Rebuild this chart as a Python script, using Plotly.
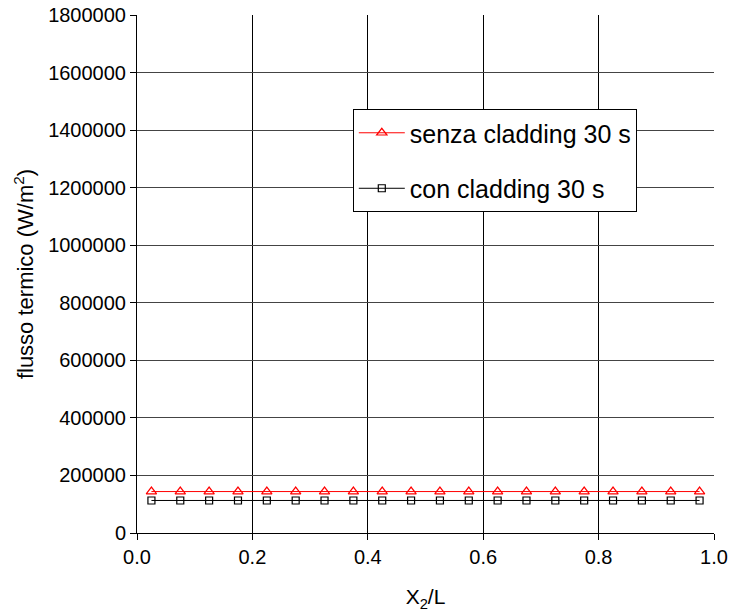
import plotly.graph_objects as go

x_pos = [0.025, 0.075, 0.125, 0.175, 0.225, 0.275, 0.325, 0.375, 0.425, 0.475,
         0.525, 0.575, 0.625, 0.675, 0.725, 0.775, 0.825, 0.875, 0.925, 0.975]
senza_cladding = [144000] * 20
con_cladding = [113000] * 20
x_ticks = [0.0, 0.2, 0.4, 0.6, 0.8, 1.0]
y_ticks = [0, 200000, 400000, 600000, 800000, 1000000, 1200000, 1400000, 1600000, 1800000]

FONT = "Liberation Sans, Arial, sans-serif"

fig = go.Figure()
fig.add_trace(go.Scatter(
    x=x_pos, y=senza_cladding, mode="lines+markers", name="senza cladding 30 s",
    line=dict(color="#ff0000", width=1),
    marker=dict(symbol="triangle-up-open", size=9, color="#ff0000", line=dict(width=1.2, color="#ff0000")),
    legendgroup="a",
))
fig.add_trace(go.Scatter(
    x=x_pos, y=con_cladding, mode="lines+markers", name="con cladding 30 s",
    line=dict(color="#000000", width=1),
    marker=dict(symbol="square-open", size=7, color="#000000", line=dict(width=1.2, color="#000000")),
    legendgroup="b",
))

fig.update_layout(
    width=729, height=612,
    margin=dict(l=137, r=15, t=15, b=79),
    paper_bgcolor="white", plot_bgcolor="white",
    font=dict(family=FONT, color="black", size=20),
    showlegend=True,
    legend=dict(
        x=0.374, y=0.8185, xanchor="left", yanchor="top",
        bgcolor="white", bordercolor="black", borderwidth=1,
        font=dict(family=FONT, size=25, color="black"),
        traceorder="grouped", tracegroupgap=20,
        itemwidth=46,
    ),
    xaxis=dict(
        range=[0, 1], tickvals=x_ticks, tickformat=".1f",
        showgrid=True, gridcolor="#000000", gridwidth=1,
        showline=True, linecolor="black", linewidth=1,
        ticks="outside", ticklen=6, tickcolor="black",
        tickfont=dict(size=20),
        zeroline=False, automargin=False,
        title=dict(text="X<sub>2</sub>/L", font=dict(size=21), standoff=22),
    ),
    yaxis=dict(
        range=[0, 1800000], tickvals=y_ticks, tickformat="d",
        showgrid=True, gridcolor="#444444", gridwidth=1,
        showline=True, linecolor="black", linewidth=1,
        ticks="outside", ticklen=6, tickcolor="black",
        tickfont=dict(size=20),
        zeroline=False, automargin=False,
        title=dict(text="flusso termico (W/m<sup>2</sup>)", font=dict(size=22), standoff=8),
    ),
)

fig.write_html("out.html")
